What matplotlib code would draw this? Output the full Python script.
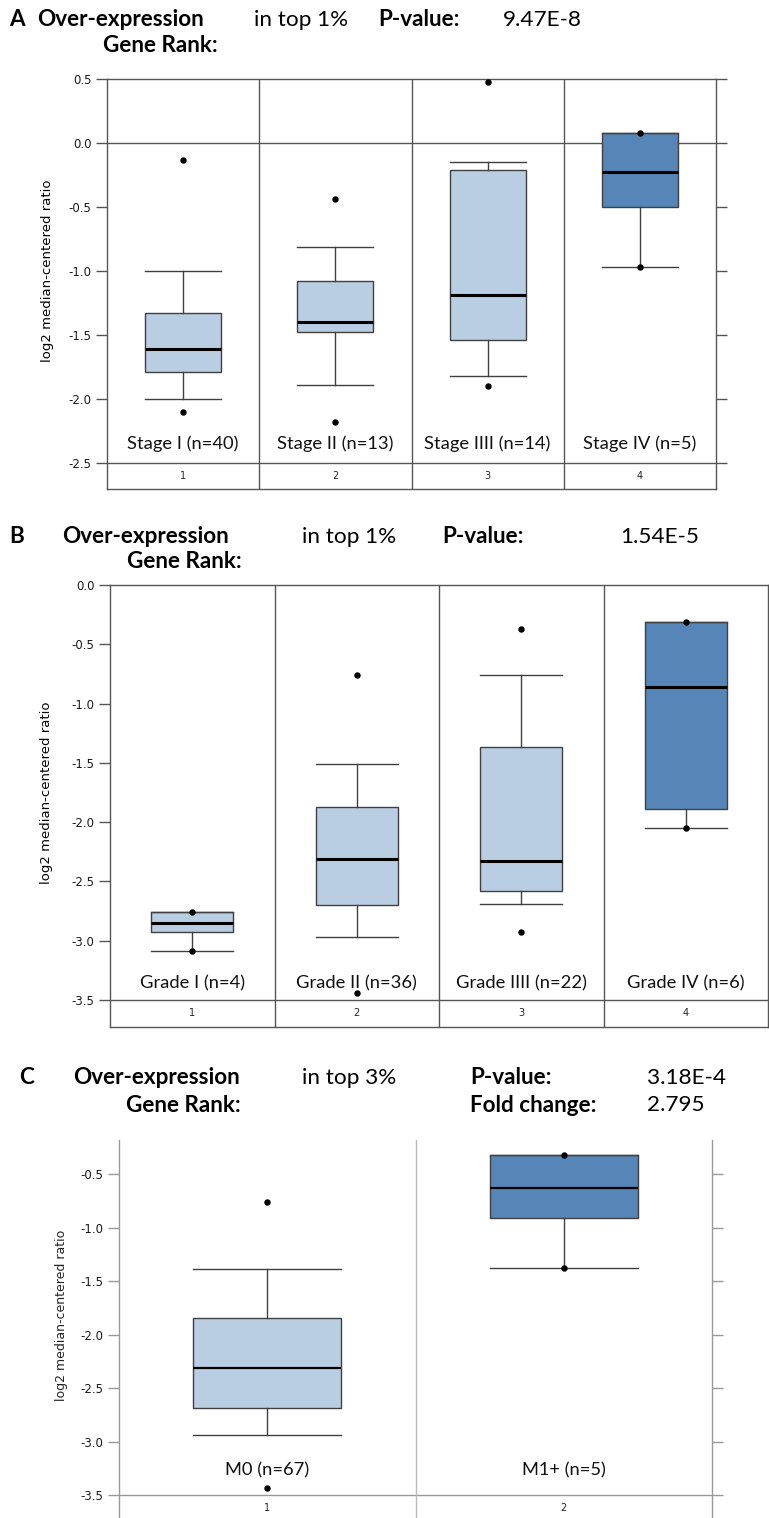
import matplotlib
matplotlib.use("Agg")
import matplotlib.pyplot as plt

W, H = 769, 1518

# Panel A - cancer stage
stage_labels = ["Stage I (n=40)", "Stage II (n=13)", "Stage IIII (n=14)", "Stage IV (n=5)"]
stage_min = [-2.10, -2.18, -1.90, -0.97]
stage_p10 = [-2.00, -1.89, -1.82, -0.97]
stage_q1 = [-1.79, -1.48, -1.54, -0.50]
stage_med = [-1.61, -1.40, -1.19, -0.23]
stage_q3 = [-1.33, -1.08, -0.21, 0.08]
stage_p90 = [-1.00, -0.81, -0.15, 0.08]
stage_max = [-0.13, -0.44, 0.48, 0.08]

# Panel B - tumour grade
grade_labels = ["Grade I (n=4)", "Grade II (n=36)", "Grade IIII (n=22)", "Grade IV (n=6)"]
grade_min = [-3.09, -3.44, -2.93, -2.05]
grade_p10 = [-3.09, -2.97, -2.69, -2.05]
grade_q1 = [-2.93, -2.70, -2.58, -1.89]
grade_med = [-2.85, -2.31, -2.33, -0.86]
grade_q3 = [-2.76, -1.87, -1.37, -0.31]
grade_p90 = [-2.76, -1.51, -0.76, -0.31]
grade_max = [-2.76, -0.76, -0.37, -0.31]

# Panel C - metastasis
meta_labels = ["M0 (n=67)", "M1+ (n=5)"]
meta_min = [-3.43, -1.38]
meta_p10 = [-2.94, -1.38]
meta_q1 = [-2.69, -0.91]
meta_med = [-2.31, -0.63]
meta_q3 = [-1.85, -0.32]
meta_p90 = [-1.39, -0.32]
meta_max = [-0.76, -0.32]

LIGHT = "#b9cde3"
DARK = "#5586b7"
HEAD = ["Lato", "DejaVu Sans"]

fig = plt.figure(figsize=(W / 100, H / 100), dpi=100)


def px_axes(left, top, right, bottom):
    return fig.add_axes([left / W, 1 - bottom / H, (right - left) / W, (bottom - top) / H])


def ftext(x, y, s, **kw):
    fig.text(x / W, 1 - y / H, s, **kw)


def draw_panel(ax, labels, mins, p10, q1, med, q3, p90, maxs, ylim, yticks,
               hlines, lab_y, num_y, line_col, sep_col, med_lw, top_spine=True):
    n = len(labels)
    stats = []
    for i in range(n):
        stats.append(dict(med=med[i], q1=q1[i], q3=q3[i], whislo=p10[i],
                          whishi=p90[i], fliers=[mins[i], maxs[i]]))
    colors = [LIGHT] * (n - 1) + [DARK]
    bp = ax.bxp(stats, positions=range(1, n + 1), widths=0.5, capwidths=0.5,
                patch_artist=True, showfliers=True,
                boxprops=dict(edgecolor="#404040", linewidth=1),
                whiskerprops=dict(color="#404040", linewidth=1),
                capprops=dict(color="#404040", linewidth=1),
                medianprops=dict(color="black", linewidth=med_lw, solid_capstyle="butt"),
                flierprops=dict(marker="o", markersize=3.6, markerfacecolor="black",
                                markeredgecolor="black"))
    for patch, c in zip(bp["boxes"], colors):
        patch.set_facecolor(c)
    for fl in bp["fliers"]:
        fl.set_zorder(5)

    ax.set_xlim(0.5, n + 0.5)
    ax.set_ylim(*ylim)
    ax.set_yticks(yticks)
    ax.set_yticklabels([f"{t:.1f}" for t in yticks])
    ax.set_xticks([])
    ax.tick_params(axis="y", direction="out", length=8, width=1, color=line_col,
                   left=True, right=True, labelsize=8.5, labelcolor="#1a1a1a", pad=3)
    for s in ax.spines.values():
        s.set_color(line_col)
        s.set_linewidth(1)
    ax.spines["top"].set_visible(top_spine)
    for h in hlines:
        ax.axhline(h, color=line_col, linewidth=1, zorder=0.5)
    for i in range(1, n):
        ax.axvline(i + 0.5, color=sep_col, linewidth=1, zorder=0.5)
    for i, lab in enumerate(labels):
        ax.text(i + 1, lab_y, lab, ha="center", va="center", fontsize=13.2,
                family=HEAD, color="#111")
        ax.text(i + 1, num_y, str(i + 1), ha="center", va="center", fontsize=7,
                color="#222")


# ---- Panel A ----
axA = px_axes(107, 79, 716, 489)
draw_panel(axA, stage_labels, stage_min, stage_p10, stage_q1, stage_med, stage_q3,
           stage_p90, stage_max, (-2.703, 0.5), [0.5, 0.0, -0.5, -1.0, -1.5, -2.0, -2.5],
           [0.0, -2.5], -2.35, -2.60, "#555555", "#555555", 2.2)
ftext(48, 271, "log2 median-centered ratio", rotation=90, ha="center", va="center",
      fontsize=9.5)

# ---- Panel B ----
axB = px_axes(110, 585, 768, 1027)
draw_panel(axB, grade_labels, grade_min, grade_p10, grade_q1, grade_med, grade_q3,
           grade_p90, grade_max, (-3.728, 0.0),
           [0.0, -0.5, -1.0, -1.5, -2.0, -2.5, -3.0, -3.5],
           [-3.5], -3.36, -3.61, "#555555", "#555555", 2.2)
ftext(47, 793, "log2 median-centered ratio", rotation=90, ha="center", va="center",
      fontsize=9.5)

# ---- Panel C ----
axC = px_axes(119, 1140, 712, 1518)
draw_panel(axC, meta_labels, meta_min, meta_p10, meta_q1, meta_med, meta_q3,
           meta_p90, meta_max, (-3.715, -0.182),
           [-0.5, -1.0, -1.5, -2.0, -2.5, -3.0, -3.5],
           [-3.5], -3.27, -3.62, "#999999", "#bbbbbb", 1.6, top_spine=False)
axC.spines["bottom"].set_visible(False)
ftext(62, 1315, "log2 median-centered ratio", rotation=90, ha="center", va="center",
      fontsize=9, color="#222")

# ---- Headers ----
hb = dict(fontsize=16.2, family=HEAD, fontweight="bold", va="center", ha="left")
hr = dict(fontsize=16.2, family=HEAD, va="center", ha="left")

ftext(9, 20, "A", **hb)
ftext(37, 20, "Over-expression", **hb)
ftext(103, 45, "Gene Rank:", **hb)
ftext(254, 20, "in top 1%", **hr)
ftext(378, 20, "P-value:", **hb)
ftext(503, 20, "9.47E-8", **hr)

ftext(9, 537, "B", **hb)
ftext(62, 537, "Over-expression", **hb)
ftext(127, 562, "Gene Rank:", **hb)
ftext(302, 537, "in top 1%", **hr)
ftext(442, 537, "P-value:", **hb)
ftext(620, 537, "1.54E-5", **hr)

ftext(19, 1078, "C", **hb)
ftext(73, 1078, "Over-expression", **hb)
ftext(126, 1105, "Gene Rank:", **hb)
ftext(302, 1078, "in top 3%", **hr)
ftext(470, 1078, "P-value:", **hb)
ftext(647, 1078, "3.18E-4", **hr)
ftext(470, 1105, "Fold change:", **hb)
ftext(647, 1105, "2.795", **hr)

fig.savefig("out.png", dpi=100)
